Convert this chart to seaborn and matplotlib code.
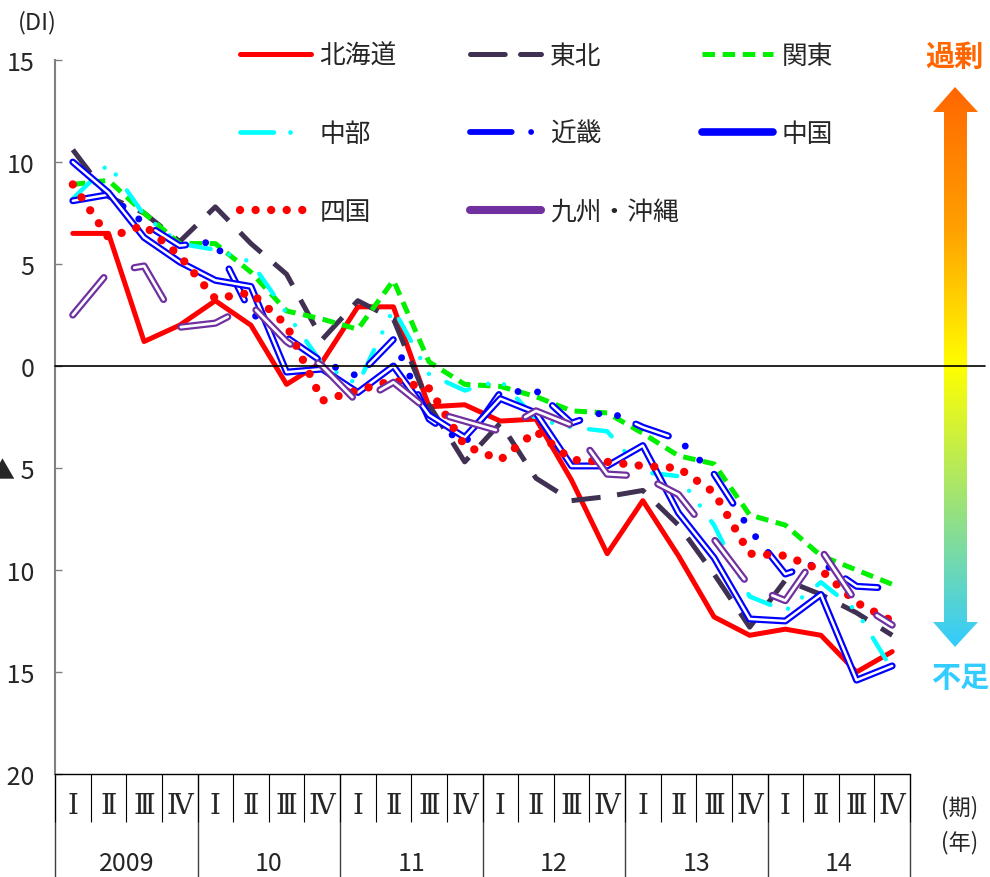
import numpy as np
import matplotlib
matplotlib.use('Agg')
import matplotlib.pyplot as plt
from matplotlib.lines import Line2D
from matplotlib.patches import Polygon
from matplotlib.colors import LinearSegmentedColormap
import seaborn as sns

# quarters 2009 I .. 2014 IV
quarters = list(range(24))
quarter_labels = ['Ⅰ', 'Ⅱ', 'Ⅲ', 'Ⅳ'] * 6
years = ['2009', '10', '11', '12', '13', '14']
yticks = [15, 10, 5, 0, -5, -10, -15, -20]
ytick_labels = ['15', '10', '5', '0', '▲ 5', '▲ 10', '▲ 15', '▲ 20']

hokkaido = [6.5, 6.5, 1.2, 2.0, 3.2, 2.0, -0.9, 0.2, 2.9, 2.9, -2.0, -1.9,
            -2.7, -2.6, -5.6, -9.2, -6.6, -9.3, -12.3, -13.2, -12.9, -13.2, -15.0, -14.0]
tohoku = [10.6, 8.3, 7.5, 6.1, 7.8, 6.0, 4.5, 1.3, 3.2, 2.3, -1.9, -4.7,
          -2.8, -5.5, -6.6, -6.4, -6.1, -7.8, -10.2, -12.8, -10.5, -11.2, -12.1, -13.2]
kanto = [8.9, 9.1, 7.5, 6.0, 6.0, 4.6, 2.7, 2.3, 1.8, 4.2, 0.2, -0.9,
         -1.0, -1.5, -2.2, -2.3, -3.3, -4.4, -4.8, -7.3, -7.8, -9.3, -10.0, -10.7]
chubu = [8.2, 9.9, 7.4, 6.0, 5.7, 5.1, 2.6, 0.1, -0.9, 2.8, -0.4, -1.2,
         -0.7, -2.6, -3.0, -3.2, -5.2, -5.4, -7.8, -11.3, -12.0, -10.6, -12.0, -14.9]
kinki = [8.1, 8.4, 7.0, 5.9, 6.1, 2.6, 1.4, 0.2, -0.5, 1.3, -2.6, -3.8,
         -1.3, -1.2, -2.8, -2.2, -3.0, -3.6, -5.3, -8.0, -10.2, -9.6, -10.8, -10.9]
chugoku = [10.0, 8.5, 6.3, 5.1, 4.2, 3.9, -0.3, -0.15, -1.3, 0.0, -2.4, -3.5,
           -1.6, -2.3, -4.9, -4.9, -3.9, -7.2, -9.4, -12.4, -12.5, -11.2, -15.4, -14.7]
shikoku = [8.9, 6.3, 6.9, 5.4, 3.3, 3.6, 2.0, -1.7, -1.2, -0.7, -1.1, -3.9,
           -4.6, -3.2, -4.6, -4.7, -4.9, -5.0, -6.2, -9.2, -9.3, -10.0, -11.6, -12.5]
kyushu = [2.5, 4.6, 4.9, 1.9, 2.1, 3.0, 1.2, 0.0, -1.8, -0.8, -2.2, -2.7,
          -3.2, -2.2, -2.9, -5.3, -5.4, -6.3, -8.5, -10.8, -11.5, -9.0, -11.6, -12.7]

RED = '#FF0000'
DARK = '#403152'
GREEN = '#00F000'
CYAN = '#00FFFF'
BLUE = '#0000FF'
PURPLE = '#7030A0'

sns.set_style('white')
plt.rcParams['font.family'] = ['Noto Sans CJK JP', 'DejaVu Sans']
plt.rcParams['lines.scale_dashes'] = False

W, H = 990, 878
fig = plt.figure(figsize=(W / 100, H / 100), dpi=100)

# background layer in pixel coordinates (arrow, side labels)
bg = fig.add_axes([0, 0, 1, 1])
bg.set_xlim(0, W)
bg.set_ylim(H, 0)
bg.axis('off')

ax = fig.add_axes([55 / W, 1 - 775 / H, 855 / W, 714 / H])
ax.patch.set_alpha(0)


def draw(vals, **kw):
    sns.lineplot(x=quarters, y=vals, ax=ax, legend=False, errorbar=None, **kw)


draw(hokkaido, color=RED, linewidth=3.6, solid_joinstyle='round')
draw(tohoku, color=DARK, linewidth=3.6, linestyle=(0, (21, 12)), dash_capstyle='butt')
draw(kanto, color=GREEN, linewidth=3.6, linestyle=(0, (9, 5.5)), dash_capstyle='butt')
draw(chubu, color=CYAN, linewidth=3.2, linestyle=(0, (18, 14, 0.01, 13, 0.01, 14)),
     dash_capstyle='round')
# 近畿: dashes drawn as double line, dots solid
draw(kinki, color=BLUE, linewidth=5, linestyle=(0, (25, 14.5, 0.01, 14.5, 0.01, 14.5)),
     dash_capstyle='round')
draw(kinki, color='white', linewidth=1.8, linestyle=(0, (25, 43.5)), dash_capstyle='round')
# 中国: double line
draw(chugoku, color=BLUE, linewidth=5, solid_capstyle='round', solid_joinstyle='round')
draw(chugoku, color='white', linewidth=1.8, solid_capstyle='round', solid_joinstyle='round')
draw(shikoku, color=RED, linewidth=6, linestyle=(0, (0.01, 11.2)), dash_capstyle='round')
# 九州・沖縄: dashed double line
draw(kyushu, color=PURPLE, linewidth=5.2, linestyle=(0, (35, 24)), dash_capstyle='round',
     solid_joinstyle='round')
draw(kyushu, color='white', linewidth=2, linestyle=(0, (35, 24)), dash_capstyle='round')

ax.axhline(0, xmin=0, xmax=(985 - 55) / 855, color='black', lw=1.2, clip_on=False, zorder=5)

ax.set_xlim(-0.5, 23.5)
ax.set_ylim(-20, 15)
ax.set_xlabel('')
ax.set_ylabel('')
ax.set_yticks(yticks)
ax.set_yticklabels(ytick_labels, fontsize=18)
ax.tick_params(axis='y', direction='in', length=5, width=1, color='#808080', pad=15, left=True)

ax.set_xticks(quarters)
ax.set_xticklabels(quarter_labels, fontsize=20,
                   family=['DejaVu Serif', 'DejaVu Sans', 'Noto Sans CJK JP'])
ax.tick_params(axis='x', which='major', length=0, pad=13)
ax.set_xticks(np.arange(-0.5, 24, 1), minor=True)
ax.tick_params(axis='x', which='minor', length=34.5, width=0.8, color='black',
               direction='out', bottom=True)

year_bounds = np.arange(-0.5, 24, 4)
year_centers = year_bounds[:-1] + 2
sec = ax.secondary_xaxis('bottom')
sec.set_xticks(year_bounds)
sec.set_xticks(year_centers, labels=years, minor=True)
sec.tick_params(which='major', length=74, width=1, color='#404040', direction='out',
                labelbottom=False, bottom=True)
sec.tick_params(which='minor', length=0, pad=55, labelsize=18)
sec.spines['bottom'].set_visible(False)

for side in ['top', 'right']:
    ax.spines[side].set_visible(False)
ax.spines['left'].set_color('#808080')
ax.spines['left'].set_linewidth(1.5)
ax.spines['bottom'].set_color('black')
ax.spines['bottom'].set_linewidth(1)

# legend (three columns, row-wise order)
handles = {
    '北海道': Line2D([], [], color=RED, lw=3.6),
    '東北': Line2D([], [], color=DARK, lw=3.6, linestyle=(0, (25, 11)), dash_capstyle='round'),
    '関東': Line2D([], [], color=GREEN, lw=3.6, linestyle=(0, (9, 5.5))),
    '中部': Line2D([], [], color=CYAN, lw=3.4, linestyle=(0, (24, 12, 0.01, 40)),
                 dash_capstyle='round'),
    '近畿': Line2D([], [], color=BLUE, lw=4.2, linestyle=(0, (30, 14, 0.01, 40)),
                 dash_capstyle='round'),
    '中国': Line2D([], [], color=BLUE, lw=5.5, solid_capstyle='round'),
    '四国': Line2D([], [], color=RED, lw=6, linestyle=(0, (0.01, 11.2)), dash_capstyle='round'),
    '九州・沖縄': Line2D([], [], color=PURPLE, lw=5.8, solid_capstyle='round'),
}
cols = [['北海道', '中部', '四国'], ['東北', '近畿', '九州・沖縄'], ['関東', '中国']]
col_x = [240, 470, 702]
for names, x in zip(cols, col_x):
    fig.legend([handles[n] for n in names], names, loc='upper left',
               bbox_to_anchor=(x / W, 1 - 44 / H), frameon=False, fontsize=18.5,
               handlelength=2.75, handletextpad=0.35, labelspacing=2.02,
               borderpad=0, borderaxespad=0)

# gradient arrow on the right
arrow = Polygon([(955, 88), (978, 113), (967, 113), (967, 623), (978, 623), (955, 648),
                 (933, 623), (944, 623), (944, 113), (933, 113)],
                closed=True, facecolor='none', edgecolor='none')
bg.add_patch(arrow)
cmap = LinearSegmentedColormap.from_list(
    'excess', ['#FF6600', '#FFA000', '#FFFF00', '#9BE27A', '#33CCFF'])
grad = np.linspace(0, 1, 256).reshape(-1, 1)
im = bg.imshow(grad, extent=(933, 978, 648, 88), cmap=cmap, aspect='auto')
im.set_clip_path(arrow)
bg.set_xlim(0, W)
bg.set_ylim(H, 0)

bg.text(954, 57, '過剰', color='#FF6600', fontsize=21, fontweight='bold', ha='center', va='center')
bg.text(960, 678, '不足', color='#33CCFF', fontsize=21, fontweight='bold', ha='center', va='center')
bg.text(18, 23, '(DI)', fontsize=17, ha='left', va='center')
bg.text(960, 808, '(期)', fontsize=16, ha='center', va='center')
bg.text(960, 843, '(年)', fontsize=16, ha='center', va='center')

fig.savefig('out.png', dpi=100, facecolor='white')
